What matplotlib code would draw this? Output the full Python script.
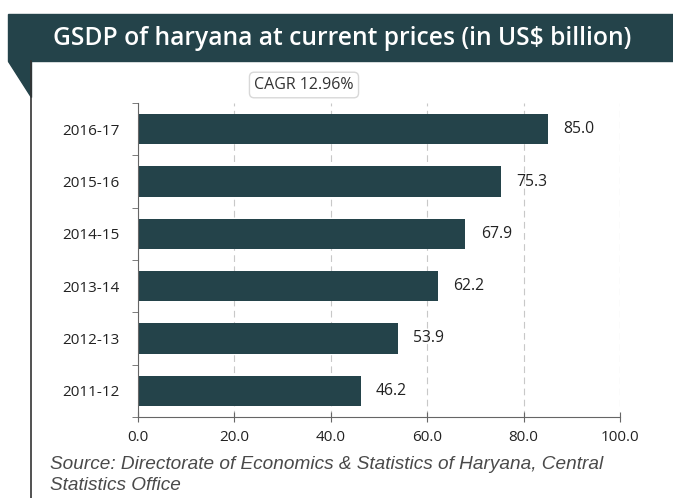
import matplotlib.pyplot as plt
from matplotlib.patches import Rectangle, Polygon

years = ["2011-12", "2012-13", "2013-14", "2014-15", "2015-16", "2016-17"]
gsdp = [46.2, 53.9, 62.2, 67.9, 75.3, 85.0]
xticks = [0, 20, 40, 60, 80, 100]

bar_color = "#24434a"
W, H = 673, 498

plt.rcParams["font.family"] = ["Open Sans", "DejaVu Sans"]

fig = plt.figure(figsize=(W / 100, H / 100), dpi=100)

# title banner and fold
fig.patches.append(Rectangle((8 / W, 1 - 61 / H), 665 / W, 47 / H,
                             transform=fig.transFigure, color=bar_color, zorder=0))
fig.patches.append(Polygon([(8 / W, 1 - 61 / H), (31 / W, 1 - 61 / H),
                            (31 / W, 1 - 97 / H)],
                           transform=fig.transFigure, color=bar_color, zorder=0))
fig.lines.append(plt.Line2D([31 / W, 31 / W], [0, 1 - 61 / H],
                            transform=fig.transFigure, color="#333333", lw=1.2))
fig.text(342 / W, 1 - 38 / H, "GSDP of haryana at current prices (in US$ billion)",
         color="white", fontsize=17.7, fontweight="semibold", ha="center", va="center")

ax = fig.add_axes([138 / W, 1 - 417 / H, 482 / W, 314 / H])
ax.barh(range(len(years)), gsdp, height=0.58, color=bar_color, zorder=2)
for i, v in enumerate(gsdp):
    ax.text(v + 3.2, i, f"{v:.1f}", va="center", ha="left", fontsize=11.3, color="#222222")

ax.set_xlim(0, 100)
ax.set_ylim(-0.5, 5.5)
ax.set_xticks(xticks)
ax.set_xticklabels([f"{t:.1f}" for t in xticks], fontsize=11, color="#222222")
ax.set_yticks(range(len(years)))
ax.set_yticklabels(years, fontsize=11, color="#222222")
ax.set_yticks([i - 0.5 for i in range(len(years) + 1)], minor=True)
ax.tick_params(axis="y", which="major", length=0, pad=13)
ax.tick_params(axis="y", which="minor", length=4, color="#666666")
ax.tick_params(axis="x", length=7, direction="inout", color="#666666", pad=6)
ax.xaxis.grid(True, linestyle=(0, (6, 4)), color="#c8c8c8", lw=0.8, zorder=0)
for s in ["top", "right"]:
    ax.spines[s].set_visible(False)
ax.spines["left"].set_color("#666666")
ax.spines["bottom"].set_color("#666666")

fig.text(304 / W, 1 - 85 / H, "CAGR 12.96%", fontsize=11.5, color="#333333",
         ha="center", va="center",
         bbox=dict(boxstyle="round,pad=0.3", fc="white", ec="#d8d8d8", lw=1))

fig.text(50 / W, 1 - 464 / H,
         "Source: Directorate of Economics & Statistics of Haryana, Central",
         fontsize=13.7, style="italic", color="#4a4a4a", ha="left", va="center",
         family=["Liberation Sans", "DejaVu Sans"])
fig.text(50 / W, 1 - 485 / H, "Statistics Office",
         fontsize=13.7, style="italic", color="#4a4a4a", ha="left", va="center",
         family=["Liberation Sans", "DejaVu Sans"])

fig.savefig("out.png", dpi=100)
